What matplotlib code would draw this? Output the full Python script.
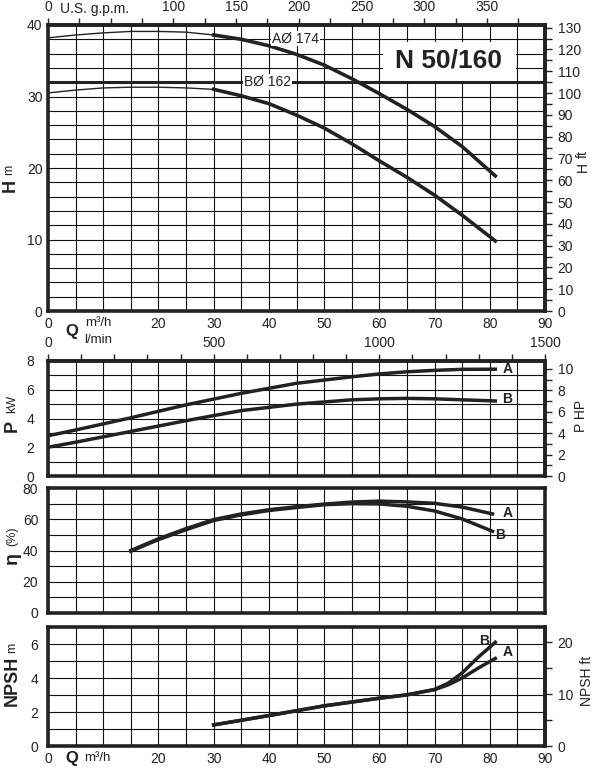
import matplotlib
matplotlib.use('Agg')
import matplotlib.pyplot as plt
from matplotlib.patches import Rectangle
from matplotlib.ticker import MultipleLocator, FixedLocator, FixedFormatter

plt.rcParams['font.family'] = ['Liberation Sans', 'DejaVu Sans']
plt.rcParams['text.color'] = '#222222'
plt.rcParams['xtick.color'] = '#222222'
plt.rcParams['ytick.color'] = '#222222'

# H-Q curves (m3/h, m)
q_h = [0, 5, 10, 15, 20, 25, 30, 35, 40, 45, 50, 55, 60, 65, 70, 75, 81]
h_a = [38.2, 38.6, 38.9, 39.1, 39.1, 39.0, 38.6, 38.0, 37.1, 35.9, 34.4, 32.5, 30.4, 28.2, 25.8, 23.0, 18.9]
h_b = [30.5, 30.9, 31.2, 31.3, 31.3, 31.2, 31.0, 30.1, 29.0, 27.4, 25.6, 23.4, 21.0, 18.7, 16.2, 13.4, 9.8]

# power (kW)
q_p = [0, 5, 15, 25, 35, 45, 55, 60, 65, 70, 75, 81]
p_a = [2.8, 3.2, 4.05, 4.95, 5.75, 6.45, 6.9, 7.1, 7.25, 7.35, 7.42, 7.43]
p_b = [2.0, 2.35, 3.1, 3.85, 4.55, 5.0, 5.3, 5.37, 5.4, 5.37, 5.3, 5.22]

# efficiency (%)
q_eff = [15, 20, 25, 30, 35, 40, 45, 50, 55, 60, 65, 70, 75, 80.5]
eff_a = [40, 47.5, 54, 59.8, 63.4, 66.1, 68, 69.7, 71, 71.6, 71.1, 70.2, 67.8, 63.4]
eff_b = [39.5, 47, 53.3, 59.2, 62.8, 65.6, 67.5, 69.3, 70, 69.8, 68.3, 65.3, 60.2, 52.3]

# NPSH (m)
q_npsh = [30, 40, 50, 60, 65, 70, 72.5, 75, 78, 81]
npsh_a = [1.24, 1.79, 2.36, 2.81, 3.01, 3.31, 3.6, 4.0, 4.6, 5.15]
npsh_b = [1.24, 1.79, 2.36, 2.81, 3.01, 3.33, 3.7, 4.3, 5.25, 6.1]

q_ticks = [0, 10, 20, 30, 40, 50, 60, 70, 80, 90]
q_labels = ['0', '', '20', '30', '40', '50', '60', '70', '80', '90']

W, H = 602, 770
fig = plt.figure(figsize=(6.02, 7.70), dpi=100)
DARK = '#222222'


def rect(top, bot):
    return [48 / W, 1 - bot / H, 497 / W, (bot - top) / H]


def txt(x, y, s, **kw):
    kw.setdefault('ha', 'center')
    kw.setdefault('va', 'center')
    fig.text(x / W, 1 - y / H, s, **kw)


def style(ax, ymax, ymaj, ymin, pad):
    ax.set_xlim(0, 90)
    ax.set_ylim(0, ymax)
    ax.xaxis.set_major_locator(FixedLocator(q_ticks))
    ax.xaxis.set_minor_locator(FixedLocator([q + 5 for q in q_ticks[:-1]]))
    ax.yaxis.set_major_locator(FixedLocator(list(range(0, ymax + 1, ymaj))))
    ax.yaxis.set_minor_locator(MultipleLocator(ymin))
    ax.grid(which='both', color='#111111', lw=0.8)
    ax.set_axisbelow(True)
    ax.tick_params(which='both', length=0, labelsize=10)
    ax.tick_params(axis='y', pad=pad)
    ax.tick_params(axis='x', pad=4)
    for s in ax.spines.values():
        s.set_linewidth(2.6)
        s.set_color(DARK)


def secondary(ax, where, f, finv, major, minor, pad=4):
    if where in ('right', 'left'):
        sec = ax.secondary_yaxis(where, functions=(f, finv))
        axis = sec.yaxis
    else:
        sec = ax.secondary_xaxis(where, functions=(f, finv))
        axis = sec.xaxis
    axis.set_major_locator(FixedLocator(major))
    axis.set_minor_locator(FixedLocator(minor))
    sec.tick_params(which='both', direction='out', length=5, width=1, pad=pad, labelsize=10)
    for s in sec.spines.values():
        s.set_linewidth(2.6)
        s.set_color(DARK)
    return sec


# ---- H ----
ax1 = fig.add_axes(rect(25, 311))
style(ax1, 40, 10, 2, 4)
ax1.xaxis.set_major_formatter(FixedFormatter(q_labels))
ax1.plot(q_h[:7], h_a[:7], color=DARK, lw=1.0)
ax1.plot(q_h[6:], h_a[6:], color=DARK, lw=2.6)
ax1.plot(q_h[:7], h_b[:7], color=DARK, lw=1.0)
ax1.plot(q_h[6:], h_b[6:], color=DARK, lw=2.6)
ax1.axhline(32, color=DARK, lw=2.2, zorder=1.6)
ax1.add_patch(Rectangle((60.7, 32.2), 24.1, 5.4, facecolor='white', edgecolor='none', zorder=1.2))
ax1.text(72.6, 35.0, 'N 50/160', fontsize=19, fontweight='bold', ha='center', va='center', zorder=3)
bb = dict(facecolor='white', edgecolor='none', pad=0.6)
ax1.text(40.6, 38.1, 'AØ 174', fontsize=10, ha='left', va='center', bbox=bb, zorder=3)
ax1.text(35.5, 32.0, 'BØ 162', fontsize=10, ha='left', va='center', bbox=bb, zorder=3)

gpm = secondary(ax1, 'top', lambda q: q * 4.40287, lambda g: g / 4.40287,
                [0, 50, 100, 150, 200, 250, 300, 350], [25, 75, 125, 175, 225, 275, 325, 375], pad=3)
gpm.xaxis.set_major_formatter(FixedFormatter(['0', '', '100', '150', '200', '250', '300', '350']))
secondary(ax1, 'right', lambda m: m * 3.28084, lambda f: f / 3.28084,
          list(range(0, 131, 10)), list(range(5, 131, 10)))

txt(94, 9, 'U.S. g.p.m.', fontsize=10)
txt(10, 186, 'H', fontsize=13, fontweight='bold', rotation=90)
txt(9, 170, 'm', fontsize=9, rotation=90)
txt(583, 167, 'H', fontsize=10, rotation=90)
txt(583, 154, 'ft', fontsize=10, rotation=90)
txt(72, 332, 'Q', fontsize=12, fontweight='bold')
txt(98, 323, 'm³/h', fontsize=9.5)
txt(98, 340, 'l/min', fontsize=9.5)

# ---- P ----
ax2 = fig.add_axes(rect(361, 476))
style(ax2, 8, 2, 1, 8)
ax2.tick_params(axis='x', labelbottom=False)
ax2.tick_params(axis='y', pad=10)
ax2.plot(q_p, p_a, color=DARK, lw=2.5)
ax2.plot(q_p, p_b, color=DARK, lw=2.5)
ax2.text(83.2, 7.45, 'A', fontsize=10, fontweight='bold', ha='center', va='center')
ax2.text(83.2, 5.38, 'B', fontsize=10, fontweight='bold', ha='center', va='center')
lmin = secondary(ax2, 'top', lambda q: q * 16.6667, lambda l: l / 16.6667,
                 [0, 500, 1000, 1500], [x for x in range(100, 1500, 100) if x % 500], pad=3)
secondary(ax2, 'right', lambda k: k * 1.34102, lambda hp: hp / 1.34102,
          [0, 2, 4, 6, 8, 10], [1, 3, 5, 7, 9])
txt(12, 426, 'P', fontsize=13, fontweight='bold', rotation=90)
txt(12, 404, 'kW', fontsize=9, rotation=90)
txt(581, 416, 'P HP', fontsize=10, rotation=90)

# ---- eta ----
ax3 = fig.add_axes(rect(488, 613))
style(ax3, 80, 20, 10, 7)
ax3.tick_params(axis='x', labelbottom=False)
ax3.plot(q_eff, eff_a, color=DARK, lw=2.5)
ax3.plot(q_eff, eff_b, color=DARK, lw=2.5)
ax3.text(83.2, 63.9, 'A', fontsize=10, fontweight='bold', ha='center', va='center')
ax3.text(81.9, 49.7, 'B', fontsize=10, fontweight='bold', ha='center', va='center')
txt(12, 558, 'η', fontsize=14, fontweight='bold', rotation=90)
txt(12, 536, '(%)', fontsize=9, rotation=90)

# ---- NPSH ----
ax4 = fig.add_axes(rect(627, 746))
style(ax4, 7, 2, 1, 7)
ax4.xaxis.set_major_formatter(FixedFormatter(q_labels))
ax4.plot(q_npsh, npsh_a, color=DARK, lw=2.5)
ax4.plot(q_npsh, npsh_b, color=DARK, lw=2.5)
ax4.text(79.0, 6.15, 'B', fontsize=10, fontweight='bold', ha='center', va='center')
ax4.text(83.2, 5.5, 'A', fontsize=10, fontweight='bold', ha='center', va='center')
secondary(ax4, 'right', lambda m: m * 3.28084, lambda f: f / 3.28084, [0, 10, 20], [5, 15])
txt(12, 681, 'NPSH', fontsize=13, fontweight='bold', rotation=90)
txt(12, 648, 'm', fontsize=9, rotation=90)
txt(587, 681, 'NPSH ft', fontsize=10, rotation=90)
txt(72, 759, 'Q', fontsize=12, fontweight='bold')
txt(97, 758, 'm³/h', fontsize=9.5)

fig.savefig('out.png', dpi=100)
